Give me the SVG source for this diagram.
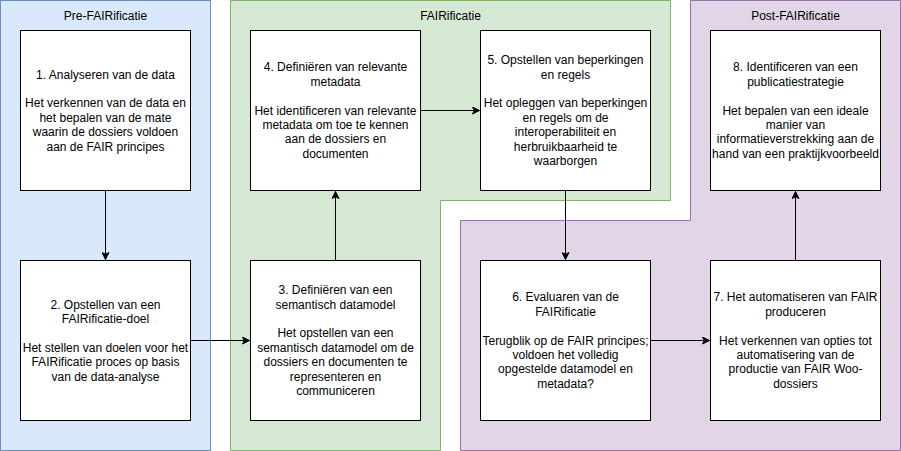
<svg xmlns="http://www.w3.org/2000/svg" width="901" height="451" viewBox="0 0 901 451">
<style>
text{font-family:"Liberation Sans",Arial,Helvetica,sans-serif;font-size:12px;fill:#000;text-anchor:middle}
.box{fill:#fff;stroke:#000;stroke-width:1}
.edge{fill:none;stroke:#000;stroke-width:1}
</style>
<defs>
<marker id="arr" viewBox="-8 -4 9 8" markerWidth="9" markerHeight="8" refX="0" refY="0" orient="auto" markerUnits="userSpaceOnUse">
<path d="M0,0 L-7,-3.5 L-5.25,0 L-7,3.5 Z" fill="#000" stroke="#000" stroke-width="1"/>
</marker>
</defs>
<rect width="901" height="451" fill="#fff"/>
<g id="pre">
<rect x="0.5" y="0.5" width="210" height="450" fill="#dae8fc" stroke="#6c8ebf"/>
<text x="105.5" y="20">Pre-FAIRificatie</text>
</g>
<g id="fair">
<path d="M230.5,0.5 H670.5 V200.5 H440.5 V450.5 H230.5 Z" fill="#d5e8d4" stroke="#82b366"/>
<text x="450.5" y="20">FAIRificatie</text>
</g>
<g id="post">
<path d="M690.5,0.5 H900.5 V450.5 H460.5 V220.5 H690.5 Z" fill="#e1d5e7" stroke="#9673a6"/>
<text x="795.5" y="20">Post-FAIRificatie</text>
</g>
<g id="n1">
<rect class="box" x="20.5" y="30.5" width="170" height="160"/>
<text y="78.5"><tspan x="105.5">1. Analyseren van de data</tspan><tspan x="105.5" dy="28.8">Het verkennen van de data en</tspan><tspan x="105.5" dy="14.4">het bepalen van de mate</tspan><tspan x="105.5" dy="14.4">waarin de dossiers voldoen</tspan><tspan x="105.5" dy="14.4">aan de FAIR principes</tspan></text>
</g>
<g id="n2">
<rect class="box" x="20.5" y="260.5" width="170" height="160"/>
<text y="308.5"><tspan x="105.5">2. Opstellen van een</tspan><tspan x="105.5" dy="14.4">FAIRificatie-doel</tspan><tspan x="105.5" dy="28.8">Het stellen van doelen voor het</tspan><tspan x="105.5" dy="14.4">FAIRificatie proces op basis</tspan><tspan x="105.5" dy="14.4">van de data-analyse</tspan></text>
</g>
<g id="n3">
<rect class="box" x="250.5" y="260.5" width="170" height="160"/>
<text y="294.1"><tspan x="335.5">3. Definiëren van een</tspan><tspan x="335.5" dy="14.4">semantisch datamodel</tspan><tspan x="335.5" dy="28.8">Het opstellen van een</tspan><tspan x="335.5" dy="14.4">semantisch datamodel om de</tspan><tspan x="335.5" dy="14.4">dossiers en documenten te</tspan><tspan x="335.5" dy="14.4">representeren en</tspan><tspan x="335.5" dy="14.4">communiceren</tspan></text>
</g>
<g id="n4">
<rect class="box" x="250.5" y="30.5" width="170" height="160"/>
<text y="71.3"><tspan x="335.5">4. Definiëren van relevante</tspan><tspan x="335.5" dy="14.4">metadata</tspan><tspan x="335.5" dy="28.8">Het identificeren van relevante</tspan><tspan x="335.5" dy="14.4">metadata om toe te kennen</tspan><tspan x="335.5" dy="14.4">aan de dossiers en</tspan><tspan x="335.5" dy="14.4">documenten</tspan></text>
</g>
<g id="n5">
<rect class="box" x="480.5" y="30.5" width="170" height="160"/>
<text y="64.1"><tspan x="565.5">5. Opstellen van beperkingen</tspan><tspan x="565.5" dy="14.4">en regels</tspan><tspan x="565.5" dy="28.8">Het opleggen van beperkingen</tspan><tspan x="565.5" dy="14.4">en regels om de</tspan><tspan x="565.5" dy="14.4">interoperabiliteit en</tspan><tspan x="565.5" dy="14.4">herbruikbaarheid te</tspan><tspan x="565.5" dy="14.4">waarborgen</tspan></text>
</g>
<g id="n6">
<rect class="box" x="480.5" y="260.5" width="170" height="160"/>
<text y="301.3"><tspan x="565.5">6. Evaluaren van de</tspan><tspan x="565.5" dy="14.4">FAIRificatie</tspan><tspan x="565.5" dy="28.8">Terugblik op de FAIR principes;</tspan><tspan x="565.5" dy="14.4">voldoen het volledig</tspan><tspan x="565.5" dy="14.4">opgestelde datamodel en</tspan><tspan x="565.5" dy="14.4">metadata?</tspan></text>
</g>
<g id="n7">
<rect class="box" x="710.5" y="260.5" width="170" height="160"/>
<text y="301.3"><tspan x="795.5">7. Het automatiseren van FAIR</tspan><tspan x="795.5" dy="14.4">produceren</tspan><tspan x="795.5" dy="28.8">Het verkennen van opties tot</tspan><tspan x="795.5" dy="14.4">automatisering van de</tspan><tspan x="795.5" dy="14.4">productie van FAIR Woo-</tspan><tspan x="795.5" dy="14.4">dossiers</tspan></text>
</g>
<g id="n8">
<rect class="box" x="710.5" y="30.5" width="170" height="160"/>
<text y="71.3"><tspan x="795.5">8. Identificeren van een</tspan><tspan x="795.5" dy="14.4">publicatiestrategie</tspan><tspan x="795.5" dy="28.8">Het bepalen van een ideale</tspan><tspan x="795.5" dy="14.4">manier van</tspan><tspan x="795.5" dy="14.4">informatieverstrekking aan de</tspan><tspan x="795.5" dy="14.4">hand van een praktijkvoorbeeld</tspan></text>
</g>
<g id="connectors">
<path class="edge" d="M105.5,190.5 V259.5" marker-end="url(#arr)"/>
<path class="edge" d="M190.5,340.5 H249.5" marker-end="url(#arr)"/>
<path class="edge" d="M335.5,260.5 V191.5" marker-end="url(#arr)"/>
<path class="edge" d="M420.5,110.5 H479.5" marker-end="url(#arr)"/>
<path class="edge" d="M565.5,190.5 V259.5" marker-end="url(#arr)"/>
<path class="edge" d="M650.5,340.5 H709.5" marker-end="url(#arr)"/>
<path class="edge" d="M795.5,260.5 V191.5" marker-end="url(#arr)"/>
</g>
</svg>
